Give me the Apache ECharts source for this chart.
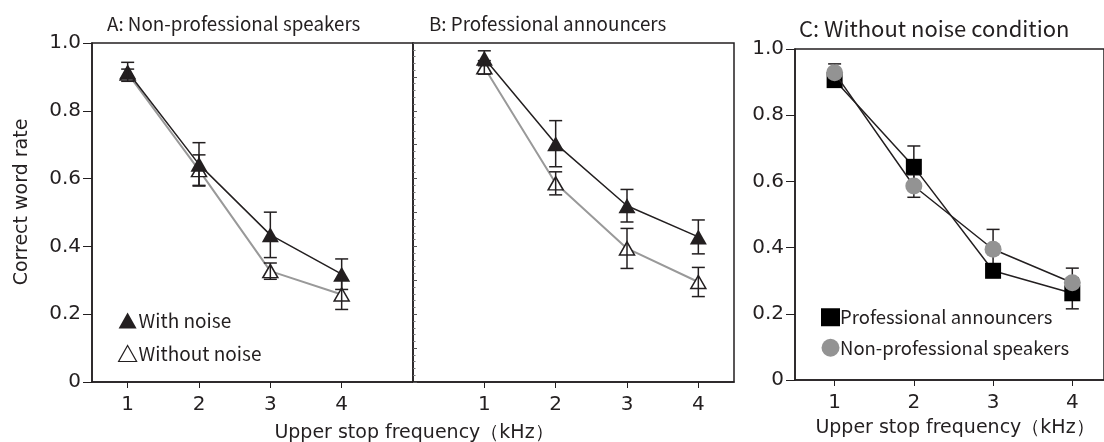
<!DOCTYPE html>
<html>
<head>
<meta charset="utf-8">
<script src="https://cdn.jsdelivr.net/npm/echarts@6/dist/echarts.min.js"></script>
<style>
    html, body { margin: 0; padding: 0; background: #fff; }
    #chart { width: 1104px; height: 442px; }
</style>
</head>
<body>
<div id="chart"></div>
<script>
// upper stop frequency (kHz)
var freqs = [1, 2, 3, 4];

// A: non-professional speakers
var aNoiseMean = [0.915, 0.642, 0.434, 0.318];
var aNoiseErr = [0.028, 0.064, 0.067, 0.045];
var aQuietMean = [0.910, 0.625, 0.327, 0.258];
var aQuietErr = [0.013, 0.045, 0.024, 0.044];

// B: professional announcers
var bNoiseMean = [0.955, 0.703, 0.520, 0.428];
var bNoiseErr = [0.022, 0.068, 0.048, 0.050];
var bQuietMean = [0.928, 0.586, 0.394, 0.295];
var bQuietErr = [0.020, 0.034, 0.059, 0.043];

// C: without noise condition
var cProMean = [0.906, 0.644, 0.330, 0.262];
var cProErr = [0.020, 0.063, 0.020, 0.047];
var cNonMean = [0.928, 0.586, 0.395, 0.294];
var cNonErr = [0.027, 0.034, 0.060, 0.044];

var ink = '#231f20';
var gray = '#999999';
var dotGray = '#939393';
var numFont = 'DejaVu Sans';
var jpFont = 'Noto Sans CJK JP';

var chart = echarts.init(document.getElementById('chart'));

function pairs(means) {
    return freqs.map(function(f, i) { return [f, means[i]]; });
}

function freqAxis(gridIndex, min, max) {
    return {
        type: 'value',
        gridIndex: gridIndex,
        min: min,
        max: max,
        axisLine: { show: true, onZero: false, lineStyle: { color: ink, width: 1.5 } },
        axisTick: { show: true, customValues: freqs, length: 6, lineStyle: { color: ink, width: 1 } },
        axisLabel: { customValues: freqs, margin: 13, fontSize: 20, fontFamily: numFont, color: ink },
        splitLine: { show: false }
    };
}

// labelled axis with the long ticks every 0.2
function rateAxis(gridIndex) {
    return {
        type: 'value',
        gridIndex: gridIndex,
        min: 0,
        max: 1,
        interval: 0.2,
        axisLine: { show: true, onZero: false, lineStyle: { color: ink, width: 1.5 } },
        axisTick: { show: true, length: 9, lineStyle: { color: ink, width: 1 } },
        axisLabel: {
            margin: 11,
            fontSize: 20,
            fontFamily: numFont,
            color: ink,
            formatter: function(v) { return v === 0 ? '0' : v.toFixed(1); }
        },
        splitLine: { show: false }
    };
}

// the small ticks (0.1 and 0.02)
function fineAxis(gridIndex) {
    return {
        type: 'value',
        gridIndex: gridIndex,
        min: 0,
        max: 1,
        interval: 0.1,
        axisLine: { show: false },
        axisTick: { show: true, length: 4, lineStyle: { color: '#555', width: 1 } },
        minorTick: { show: true, splitNumber: 5, length: 2.5, lineStyle: { color: '#777', width: 1 } },
        axisLabel: { show: false },
        splitLine: { show: false }
    };
}

function lineSeries(name, xi, yi, means, opt) {
    return {
        name: name,
        type: 'line',
        xAxisIndex: xi,
        yAxisIndex: yi,
        data: pairs(means),
        symbol: opt.symbol,
        symbolSize: opt.size,
        showSymbol: true,
        lineStyle: { color: opt.line, width: opt.lineWidth || 1.5 },
        itemStyle: { color: opt.fill, borderColor: opt.border || opt.fill, borderWidth: opt.borderWidth || 0 },
        emphasis: { disabled: true },
        silent: true,
        z: opt.z
    };
}

function errorBars(xi, yi, means, errs, z) {
    return {
        type: 'custom',
        xAxisIndex: xi,
        yAxisIndex: yi,
        silent: true,
        z: z,
        encode: { x: 0, y: [1, 2] },
        data: freqs.map(function(f, i) { return [f, means[i] - errs[i], means[i] + errs[i]]; }),
        renderItem: function(params, api) {
            var lo = api.coord([api.value(0), api.value(1)]);
            var hi = api.coord([api.value(0), api.value(2)]);
            var half = 6.5;
            var style = { stroke: ink, lineWidth: 1.5 };
            return {
                type: 'group',
                children: [
                    { type: 'line', shape: { x1: lo[0], y1: lo[1], x2: hi[0], y2: hi[1] }, style: style },
                    { type: 'line', shape: { x1: lo[0] - half, y1: lo[1], x2: lo[0] + half, y2: lo[1] }, style: style },
                    { type: 'line', shape: { x1: hi[0] - half, y1: hi[1], x2: hi[0] + half, y2: hi[1] }, style: style }
                ]
            };
        }
    };
}

var filledTri = { symbol: 'triangle', size: [17, 15], line: ink, fill: ink, z: 5 };
var openTri = { symbol: 'triangle', size: [15, 13], line: gray, lineWidth: 2, fill: '#fff', border: ink, borderWidth: 1.5, z: 4 };
var square = { symbol: 'rect', size: [16, 16], line: ink, fill: '#000', z: 4 };
var dot = { symbol: 'circle', size: 17, line: ink, fill: dotGray, z: 5 };

function label(text, x, y, size, font, extra) {
    var el = {
        type: 'text',
        x: x,
        y: y,
        silent: true,
        style: {
            text: text,
            fill: ink,
            font: size + 'px "' + font + '"',
            textAlign: (extra && extra.align) || 'left',
            textVerticalAlign: 'middle'
        }
    };
    if (extra && extra.rotation) {
        el.rotation = extra.rotation;
    }
    return el;
}

var legendText = { fontSize: 19, fontFamily: jpFont, color: ink, padding: [0, 0, 0, -3] };

var option = {
    animation: false,
    grid: [
        { left: 92, top: 43, width: 321, height: 339, show: true, borderColor: ink, borderWidth: 1.5 },
        { left: 413, top: 43, width: 321, height: 339, show: true, borderColor: ink, borderWidth: 1.5 },
        { left: 795, top: 49, width: 313, height: 331, show: true, borderColor: ink, borderWidth: 1.5 }
    ],
    xAxis: [
        freqAxis(0, 0.5, 5),
        freqAxis(1, 0, 4.5),
        freqAxis(2, 0.5, 4.4)
    ],
    yAxis: [
        rateAxis(0),
        fineAxis(0),
        { type: 'value', gridIndex: 1, min: 0, max: 1, show: false },
        rateAxis(2),
        fineAxis(2)
    ],
    legend: [
        {
            left: 113,
            top: 306,
            orient: 'vertical',
            itemGap: 14,
            itemWidth: 18,
            itemHeight: 16,
            selectedMode: false,
            textStyle: legendText,
            data: [
                { name: 'With noise', icon: 'triangle', itemStyle: { color: ink, borderWidth: 0 } },
                { name: 'Without noise', icon: 'triangle', itemStyle: { color: '#fff', borderColor: ink, borderWidth: 1.2 } }
            ]
        },
        {
            left: 816,
            top: 303,
            orient: 'vertical',
            itemGap: 12,
            itemWidth: 19,
            itemHeight: 18,
            selectedMode: false,
            textStyle: { fontSize: 18.5, fontFamily: jpFont, color: ink, padding: [0, 0, 0, -5] },
            data: [
                { name: 'Professional announcers', icon: 'rect', itemStyle: { color: '#000', borderWidth: 0 } },
                { name: 'Non-professional speakers', icon: 'circle', itemStyle: { color: dotGray, borderWidth: 0 } }
            ]
        }
    ],
    series: [
        lineSeries('Without noise', 0, 0, aQuietMean, openTri),
        errorBars(0, 0, aQuietMean, aQuietErr, 6),
        lineSeries('With noise', 0, 0, aNoiseMean, filledTri),
        errorBars(0, 0, aNoiseMean, aNoiseErr, 6),

        lineSeries('Without noise', 1, 2, bQuietMean, openTri),
        errorBars(1, 2, bQuietMean, bQuietErr, 6),
        lineSeries('With noise', 1, 2, bNoiseMean, filledTri),
        errorBars(1, 2, bNoiseMean, bNoiseErr, 6),

        errorBars(2, 3, cProMean, cProErr, 2),
        errorBars(2, 3, cNonMean, cNonErr, 2),
        lineSeries('Professional announcers', 2, 3, cProMean, square),
        lineSeries('Non-professional speakers', 2, 3, cNonMean, dot)
    ],
    graphic: [
        label('A: Non-professional speakers', 107, 24, 18.8, jpFont),
        label('B: Professional announcers', 429, 24, 18.8, jpFont),
        label('C: Without noise condition', 799, 29, 22, jpFont),
        label('Correct word rate', 22, 202, 19, numFont, { align: 'center', rotation: Math.PI / 2 }),
        label('Upper stop frequency（kHz）', 414, 433, 19, numFont, { align: 'center' }),
        label('Upper stop frequency（kHz）', 955, 428, 19, numFont, { align: 'center' })
    ]
};

chart.setOption(option);
</script>
</body>
</html>
